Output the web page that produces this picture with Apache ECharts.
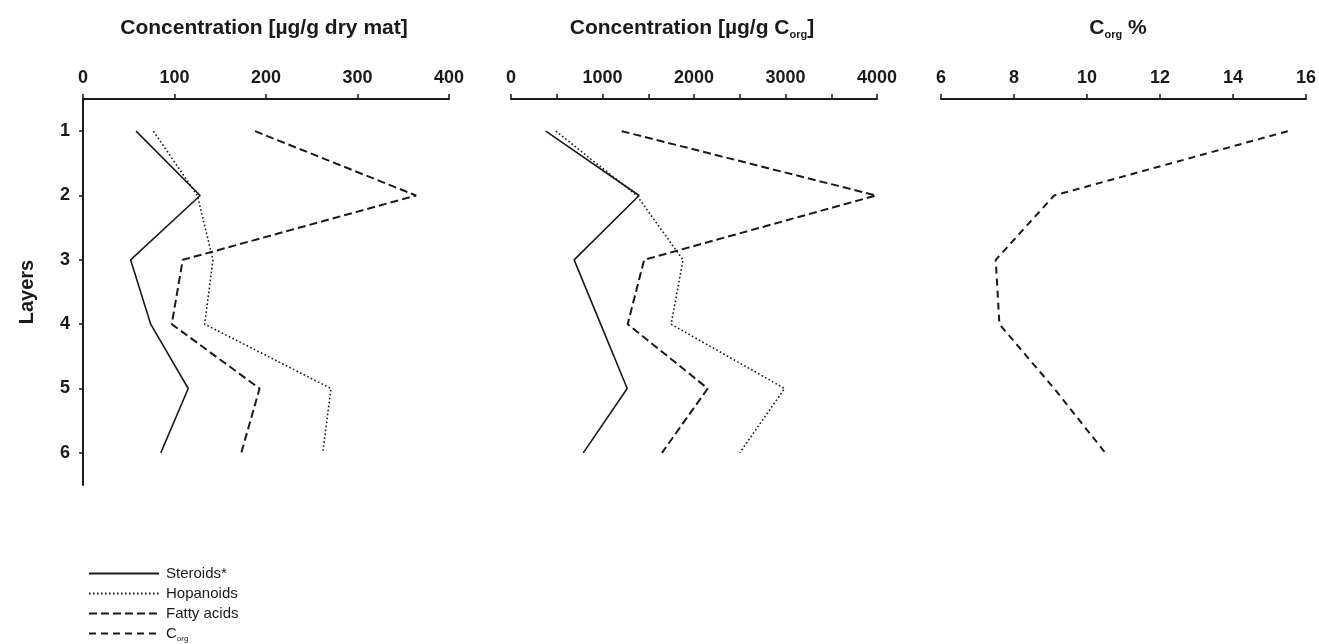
<!DOCTYPE html>
<html>
<head>
<meta charset="utf-8">
<script src="https://cdn.jsdelivr.net/npm/echarts@6/dist/echarts.min.js"></script>
<style>
  html, body { margin: 0; padding: 0; background: #fff; }
  #chart { width: 1319px; height: 644px; }
</style>
</head>
<body>
<div id="chart"></div>
<script>
// Sediment layers (top to bottom)
const layers = ['1', '2', '3', '4', '5', '6'];

// Concentrations per dry matter [µg/g]
const steroidsDry = [58, 128, 52, 74, 115, 85];
const hopanoidsDry = [77, 125, 142, 133, 271, 262];
const fattyDry = [188, 364, 109, 97, 193, 173];

// Concentrations normalised to organic carbon [µg/g Corg]
const steroidsCorg = [380, 1400, 690, 980, 1270, 790];
const hopanoidsCorg = [490, 1375, 1880, 1750, 2990, 2500];
const fattyCorg = [1210, 3990, 1455, 1275, 2150, 1650];

// Organic carbon content [%]
const corgPct = [15.5, 9.1, 7.5, 7.6, 9.1, 10.5];

const INK = '#1a1a1a';
const FONT = '"Liberation Sans", Arial, sans-serif';

const styles = {
  steroids: { color: INK, width: 1.6, type: 'solid' },
  hopanoids: { color: INK, width: 1.6, type: [1.6, 2.4] },
  fatty: { color: INK, width: 2, type: [8, 4] },
  corg: { color: INK, width: 2, type: [7, 5] }
};

const chart = echarts.init(document.getElementById('chart'));

const gridW = 366, gridTop = 99, gridH = 386;
const grids = [
  { left: 83, top: gridTop, width: gridW, height: gridH },
  { left: 511, top: gridTop, width: gridW, height: gridH },
  { left: 941, top: gridTop, width: gridW, height: gridH }
];

function xAxis(gi, min, max, interval, labelEvery) {
  return {
    type: 'value', gridIndex: gi, position: 'top', min: min, max: max, interval: interval,
    axisLine: { show: true, lineStyle: { color: INK, width: 2 } },
    axisTick: { show: true, length: 5, lineStyle: { color: INK, width: 1.5 } },
    splitLine: { show: false },
    axisLabel: {
      margin: 12, color: INK, fontFamily: FONT, fontWeight: 'bold', fontSize: 18,
      formatter: v => (Math.round(v) % labelEvery === 0 ? String(v) : '')
    }
  };
}

function yAxis(gi, visible) {
  return {
    type: 'category', gridIndex: gi, data: layers, inverse: true, boundaryGap: true,
    show: visible,
    name: visible ? 'Layers' : '', nameLocation: 'middle', nameGap: 46,
    nameTextStyle: { color: INK, fontFamily: FONT, fontWeight: 'bold', fontSize: 20 },
    axisLine: { show: true, lineStyle: { color: INK, width: 2 } },
    axisTick: { show: true, alignWithLabel: true, length: 4, lineStyle: { color: INK, width: 1.5 } },
    axisLabel: { margin: 13, color: INK, fontFamily: FONT, fontWeight: 'bold', fontSize: 18 }
  };
}

function line(name, data, gi, st) {
  return {
    name: name, type: 'line', xAxisIndex: gi, yAxisIndex: gi, data: data,
    symbol: 'none', silent: true, animation: false,
    lineStyle: { color: st.color, width: st.width, type: st.type },
    itemStyle: { color: st.color }
  };
}

const titleStyle = {
  fontFamily: FONT, fontWeight: 'bold', fontSize: 21, fill: INK,
  align: 'center', verticalAlign: 'middle'
};
const richTitle = {
  t: { fontFamily: FONT, fontWeight: 'bold', fontSize: 21, color: INK, lineHeight: 24 },
  s: { fontFamily: FONT, fontWeight: 'bold', fontSize: 11, color: INK, lineHeight: 8, verticalAlign: 'bottom' }
};

chart.setOption({
  backgroundColor: '#fff',
  animation: false,
  grid: grids,
  xAxis: [
    xAxis(0, 0, 400, 100, 100),
    xAxis(1, 0, 4000, 500, 1000),
    xAxis(2, 6, 16, 2, 2)
  ],
  yAxis: [yAxis(0, true), yAxis(1, false), yAxis(2, false)],
  legend: {
    orient: 'vertical', left: 88, top: 566, padding: 0,
    itemWidth: 70, itemHeight: 14, itemGap: 5,
    selectedMode: false,
    itemStyle: { opacity: 0 },
    data: ['Steroids*', 'Hopanoids', 'Fatty acids', 'Corg'],
    formatter: n => (n === 'Corg' ? '{m|C}{s|org}' : '{m|' + n + '}'),
    textStyle: {
      color: INK, fontFamily: FONT, fontSize: 15, padding: [0, 0, 0, 2],
      rich: {
        m: { fontFamily: FONT, fontSize: 15, color: INK, lineHeight: 18 },
        s: { fontFamily: FONT, fontSize: 8, color: INK, lineHeight: 6, verticalAlign: 'bottom' }
      }
    }
  },
  graphic: [
    { type: 'text', x: 264, y: 28, silent: true,
      style: Object.assign({}, titleStyle, { text: '{t|Concentration [µg/g dry mat]}', rich: richTitle }) },
    { type: 'text', x: 692, y: 28, silent: true,
      style: Object.assign({}, titleStyle, { text: '{t|Concentration [µg/g C}{s|org}{t|]}', rich: richTitle }) },
    { type: 'text', x: 1118, y: 28, silent: true,
      style: Object.assign({}, titleStyle, { text: '{t|C}{s|org}{t| %}', rich: richTitle }) }
  ],
  series: [
    line('Steroids*', steroidsDry, 0, styles.steroids),
    line('Hopanoids', hopanoidsDry, 0, styles.hopanoids),
    line('Fatty acids', fattyDry, 0, styles.fatty),
    line('Steroids*', steroidsCorg, 1, styles.steroids),
    line('Hopanoids', hopanoidsCorg, 1, styles.hopanoids),
    line('Fatty acids', fattyCorg, 1, styles.fatty),
    line('Corg', corgPct, 2, styles.corg)
  ]
});
</script>
</body>
</html>
